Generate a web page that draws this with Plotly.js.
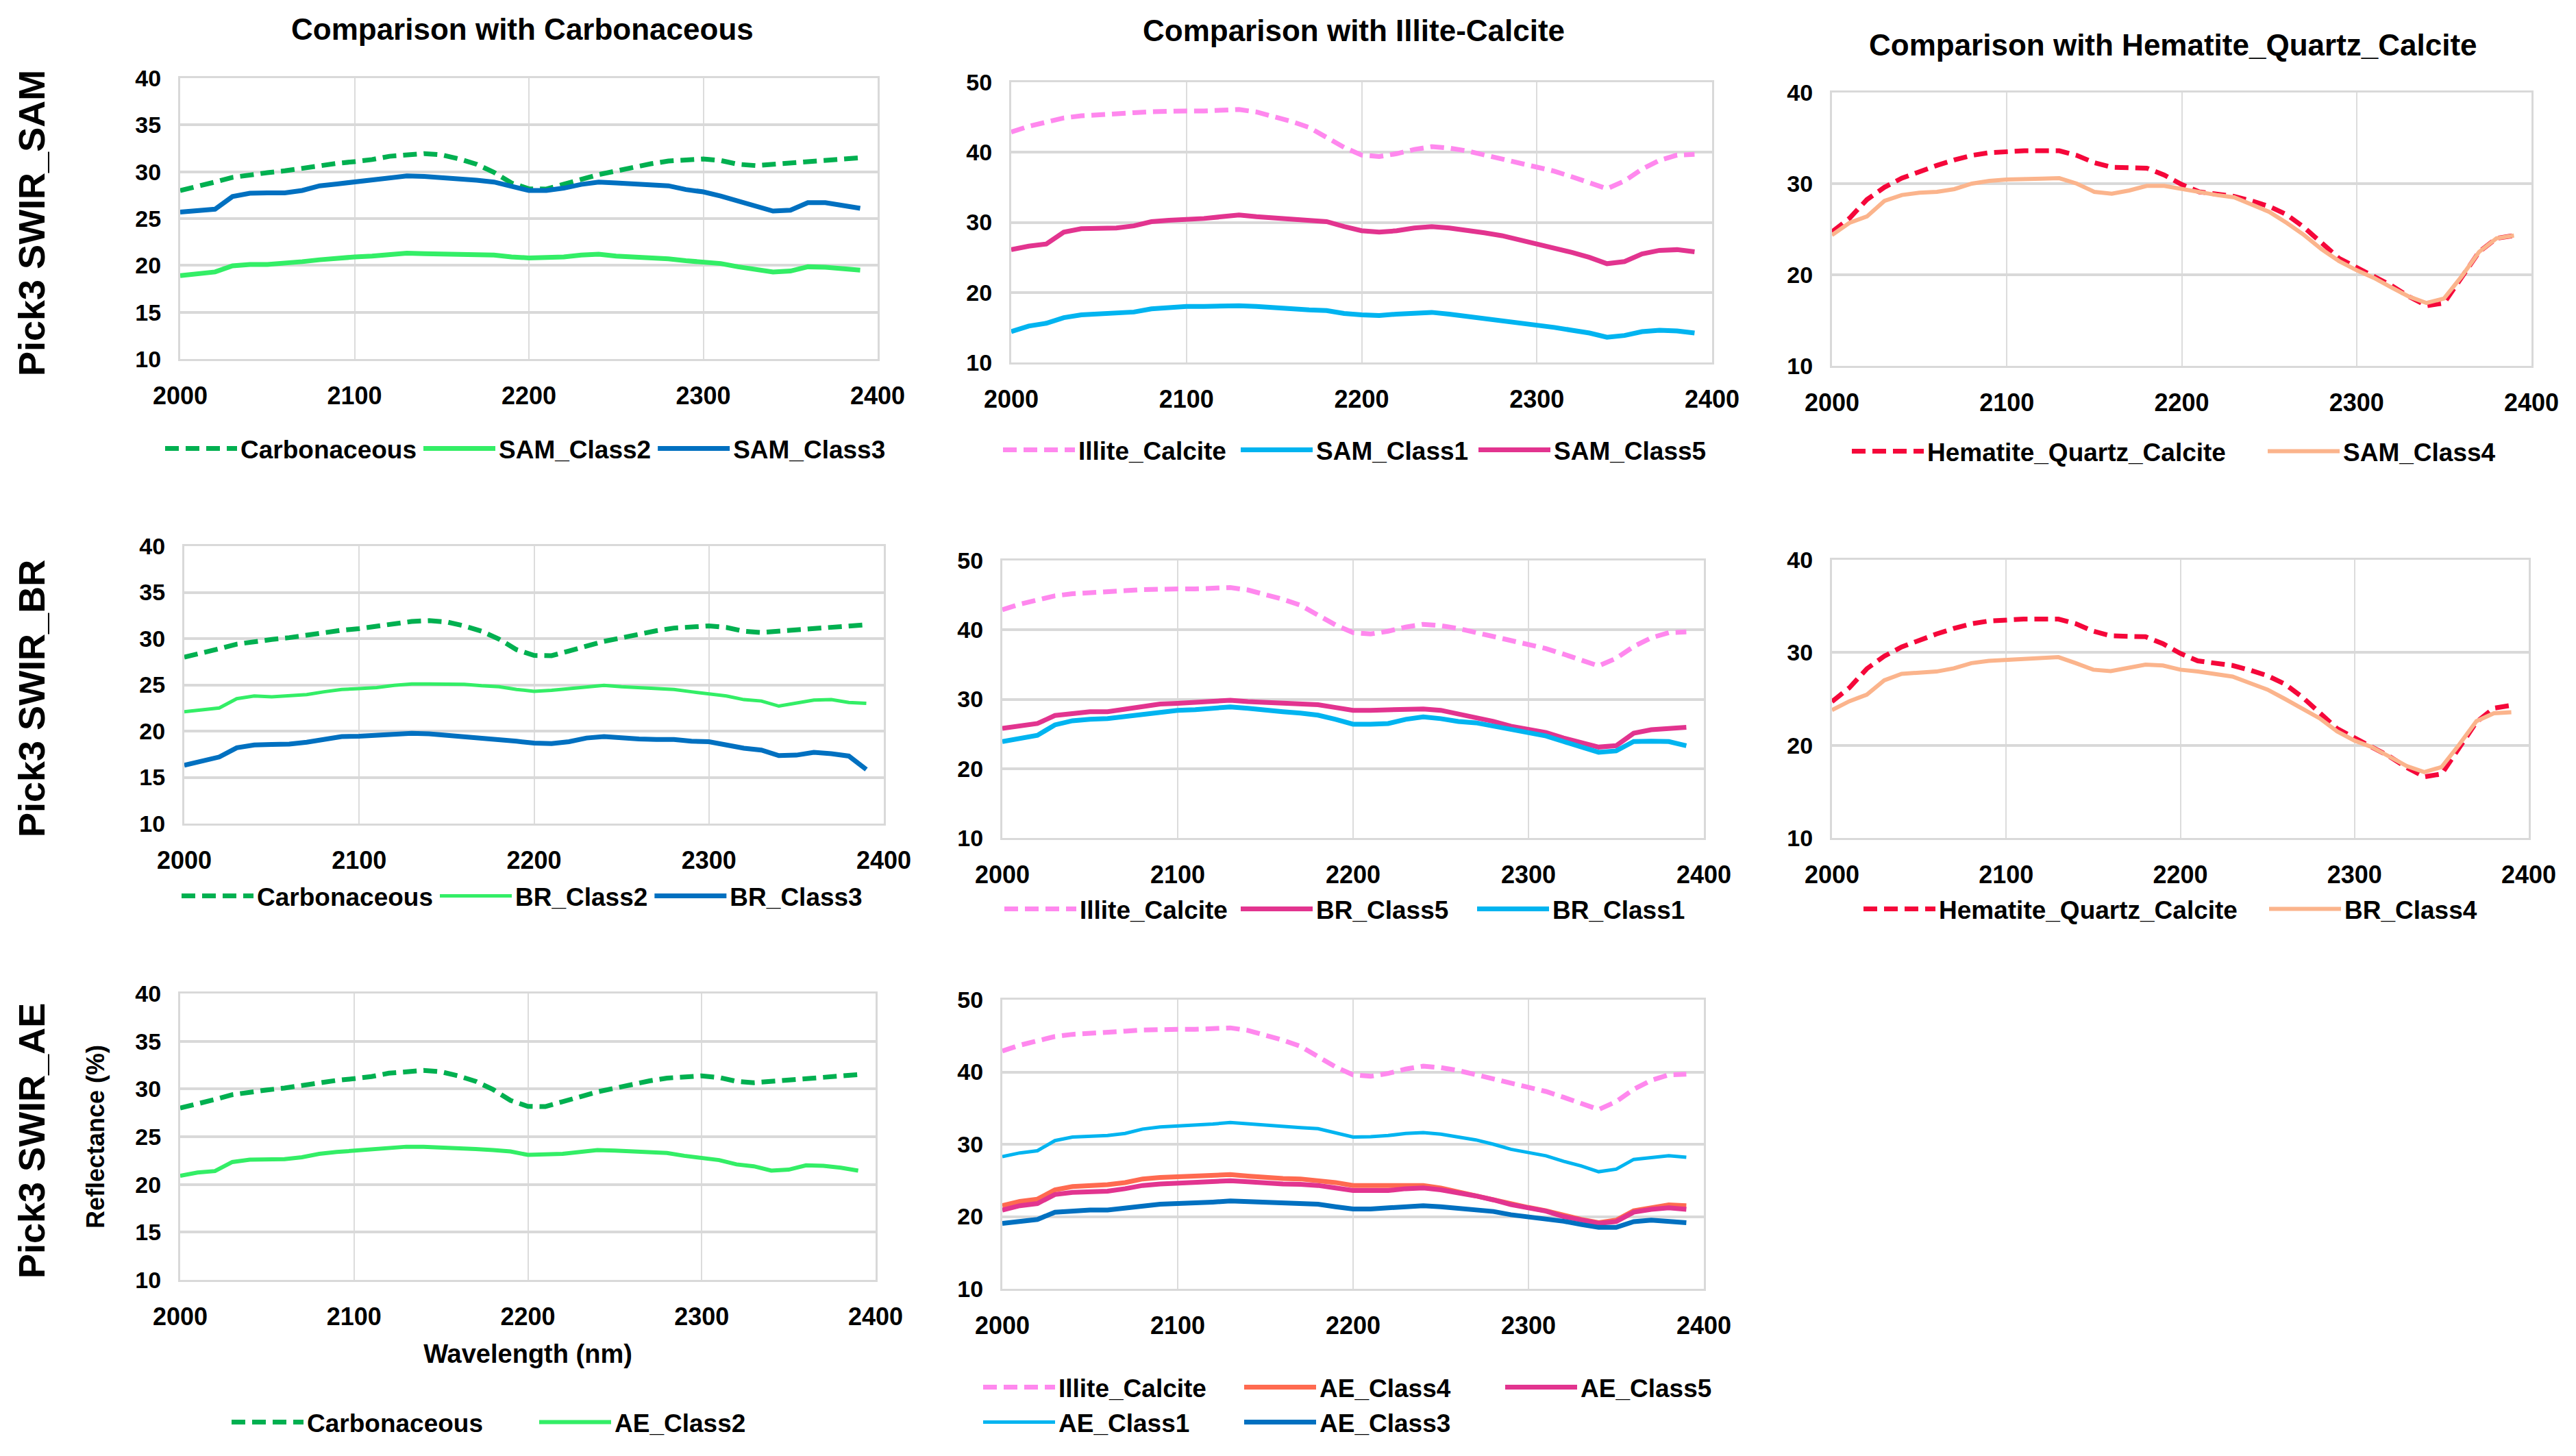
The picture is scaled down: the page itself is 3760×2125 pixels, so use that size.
<!DOCTYPE html>
<html>
<head>
<meta charset="utf-8">
<script src="https://cdn.plot.ly/plotly-3.0.1.min.js"></script>
<style>
body { margin: 0; background: #fff; }
#chart { width: 3760px; height: 2125px; }
</style>
</head>
<body>
<div id="chart"></div>
<script>
// wavelength grid (nm)
var wavelength = [2000, 2010, 2020, 2030, 2040, 2050, 2060, 2070, 2080, 2090,
                  2100, 2110, 2120, 2130, 2140, 2150, 2160, 2170, 2180, 2190,
                  2200, 2210, 2220, 2230, 2240, 2250, 2260, 2270, 2280, 2290,
                  2300, 2310, 2320, 2330, 2340, 2350, 2360, 2370, 2380, 2390];

// library spectra
var carbonaceous = [28.0, 28.4, 28.9, 29.4, 29.7, 29.9, 30.1, 30.4, 30.66, 30.9,
                    31.08, 31.3, 31.65, 31.85, 31.94, 31.8, 31.37, 30.8, 29.94, 28.8,
                    28.18, 28.15, 28.66, 29.23, 29.7, 30.08, 30.5, 30.85, 31.14, 31.3,
                    31.37, 31.2, 30.8, 30.66, 30.8, 30.94, 31.14, 31.28, 31.37, 31.5];
var illiteCalcite = [42.9, 43.7, 44.3, 44.9, 45.2, 45.4, 45.5, 45.65, 45.8, 45.9,
                     45.9, 45.9, 46.0, 46.1, 45.75, 45.1, 44.4, 43.55, 42.2, 40.7,
                     39.6, 39.4, 39.8, 40.4, 40.8, 40.6, 40.2, 39.6, 38.95, 38.4,
                     37.9, 37.3, 36.5, 35.65, 34.8, 35.9, 37.6, 38.85, 39.6, 39.7];
var hematiteQC = [24.7, 26.2, 28.25, 29.6, 30.6, 31.35, 32.0, 32.6, 33.1, 33.4,
                  33.55, 33.6, 33.6, 33.6, 33.1, 32.3, 31.8, 31.7, 31.7, 30.95,
                  29.9, 29.1, 28.85, 28.6, 28.1, 27.5, 26.6, 25.2, 23.5, 21.8,
                  20.8, 19.8, 18.8, 17.6, 16.6, 16.9, 19.8, 22.5, 24.0, 24.3];

// SAM classes
var samClass1 = [14.4, 15.2, 15.6, 16.4, 16.8, 16.9, 17.0, 17.2, 17.65, 17.9,
                 18.0, 18.0, 18.1, 18.1, 18.0, 17.8, 17.7, 17.5, 17.4, 17.0,
                 16.8, 16.7, 16.9, 17.1, 17.15, 16.9, 16.6, 16.3, 15.9, 15.6,
                 15.35, 15.0, 14.6, 14.2, 13.6, 13.85, 14.4, 14.6, 14.5, 14.2];
var samClass2 = [18.9, 19.1, 19.3, 19.95, 20.1, 20.1, 20.2, 20.4, 20.6, 20.8,
                 20.9, 21.0, 21.2, 21.3, 21.25, 21.2, 21.2, 21.1, 21.1, 20.9,
                 20.8, 20.85, 20.9, 21.1, 21.2, 21.0, 20.9, 20.85, 20.7, 20.5,
                 20.35, 20.2, 19.85, 19.6, 19.3, 19.4, 19.85, 19.8, 19.7, 19.5];
var samClass3 = [25.7, 25.9, 26.0, 27.35, 27.7, 27.75, 27.75, 28.0, 28.5, 28.7,
                 28.9, 29.05, 29.3, 29.55, 29.5, 29.4, 29.3, 29.1, 28.9, 28.5,
                 28.0, 28.0, 28.25, 28.65, 28.9, 28.8, 28.7, 28.65, 28.5, 28.1,
                 27.85, 27.4, 26.85, 26.4, 25.8, 25.9, 26.7, 26.7, 26.4, 26.1];
var samClass4 = [24.35, 25.7, 26.4, 28.1, 28.75, 29.0, 29.1, 29.4, 30.0, 30.3,
                 30.45, 30.45, 30.55, 30.6, 30.0, 29.1, 28.9, 29.25, 29.75, 29.75,
                 29.4, 29.1, 28.75, 28.5, 27.7, 26.9, 25.7, 24.35, 22.8, 21.5,
                 20.5, 19.65, 18.6, 17.6, 16.9, 17.4, 19.8, 22.5, 24.0, 24.3];
var samClass5 = [26.1, 26.6, 26.9, 28.6, 29.1, 29.1, 29.2, 29.5, 30.1, 30.3,
                 30.4, 30.55, 30.8, 31.05, 30.8, 30.6, 30.45, 30.3, 30.1, 29.4,
                 28.8, 28.6, 28.8, 29.2, 29.4, 29.2, 28.9, 28.5, 28.1, 27.5,
                 26.9, 26.4, 25.7, 25.0, 24.1, 24.4, 25.5, 26.0, 26.1, 25.8];

// BR classes
var brClass1 = [23.9, 24.4, 24.8, 26.3, 26.9, 27.1, 27.2, 27.5, 27.85, 28.2,
                28.4, 28.5, 28.7, 28.9, 28.7, 28.4, 28.2, 28.0, 27.7, 27.1,
                26.4, 26.4, 26.5, 27.1, 27.45, 27.2, 26.8, 26.6, 26.1, 25.55,
                25.2, 24.7, 23.9, 23.1, 22.35, 22.55, 23.9, 23.95, 23.9, 23.3];
var brClass2 = [22.1, 22.3, 22.5, 23.5, 23.8, 23.7, 23.8, 23.95, 24.25, 24.5,
                24.6, 24.7, 24.95, 25.1, 25.1, 25.05, 25.05, 24.9, 24.8, 24.5,
                24.3, 24.4, 24.6, 24.75, 24.95, 24.8, 24.7, 24.65, 24.5, 24.25,
                24.0, 23.8, 23.4, 23.25, 22.7, 23.0, 23.35, 23.4, 23.1, 23.0];
var brClass3 = [16.3, 16.8, 17.2, 18.2, 18.5, 18.55, 18.6, 18.8, 19.15, 19.4,
                19.45, 19.55, 19.7, 19.75, 19.7, 19.55, 19.45, 19.25, 19.15, 18.9,
                18.7, 18.65, 18.85, 19.25, 19.4, 19.25, 19.15, 19.1, 19.1, 18.9,
                18.85, 18.5, 18.15, 17.95, 17.35, 17.4, 17.7, 17.55, 17.3, 15.85];
var brClass4 = [23.8, 24.75, 25.45, 27.0, 27.7, 27.8, 27.95, 28.3, 28.85, 29.1,
                29.2, 29.2, 29.3, 29.5, 28.85, 28.15, 28.0, 28.3, 28.7, 28.6,
                28.15, 27.95, 27.7, 27.4, 26.7, 26.0, 25.0, 23.95, 22.9, 21.5,
                20.5, 19.8, 18.8, 17.75, 17.1, 17.65, 20.05, 22.6, 23.45, 23.55];
var brClass5 = [25.8, 26.2, 26.5, 27.65, 28.0, 28.2, 28.2, 28.6, 29.0, 29.3,
                29.4, 29.55, 29.7, 29.85, 29.65, 29.55, 29.45, 29.35, 29.2, 28.8,
                28.4, 28.4, 28.5, 28.6, 28.6, 28.4, 27.9, 27.45, 26.8, 26.1,
                25.7, 25.2, 24.4, 23.75, 23.1, 23.3, 25.1, 25.6, 25.8, 25.95];

// AE classes
var aeClass1 = [28.3, 28.8, 29.1, 30.5, 31.0, 31.1, 31.2, 31.5, 32.1, 32.4,
                32.5, 32.65, 32.8, 33.0, 32.8, 32.6, 32.5, 32.3, 32.15, 31.6,
                31.0, 31.05, 31.2, 31.5, 31.6, 31.4, 30.95, 30.6, 30.0, 29.3,
                28.85, 28.4, 27.65, 27.0, 26.2, 26.55, 27.9, 28.1, 28.4, 28.2];
var aeClass2 = [20.9, 21.25, 21.4, 22.35, 22.6, 22.65, 22.65, 22.85, 23.2, 23.4,
                23.55, 23.6, 23.8, 23.95, 23.95, 23.9, 23.8, 23.7, 23.6, 23.45,
                23.1, 23.1, 23.2, 23.4, 23.6, 23.55, 23.45, 23.4, 23.3, 23.0,
                22.8, 22.55, 22.1, 21.9, 21.45, 21.55, 22.0, 21.95, 21.75, 21.45];
var aeClass3 = [19.05, 19.4, 19.6, 20.6, 20.8, 20.9, 20.9, 21.15, 21.5, 21.7,
                21.8, 21.85, 22.0, 22.15, 22.05, 21.95, 21.85, 21.8, 21.7, 21.35,
                21.05, 21.05, 21.15, 21.35, 21.5, 21.35, 21.1, 20.95, 20.7, 20.25,
                19.95, 19.7, 19.35, 18.9, 18.5, 18.5, 19.3, 19.5, 19.4, 19.15];
var aeClass4 = [21.5, 22.1, 22.4, 23.7, 24.15, 24.25, 24.4, 24.7, 25.2, 25.4,
                25.5, 25.55, 25.7, 25.8, 25.6, 25.35, 25.25, 25.2, 25.0, 24.7,
                24.3, 24.3, 24.3, 24.4, 24.3, 23.95, 23.4, 22.95, 22.4, 21.7,
                21.25, 20.8, 20.15, 19.6, 19.15, 19.5, 20.8, 21.25, 21.6, 21.5];
var aeClass5 = [20.9, 21.5, 21.8, 23.05, 23.35, 23.4, 23.5, 23.85, 24.3, 24.5,
                24.6, 24.7, 24.8, 24.95, 24.8, 24.6, 24.5, 24.45, 24.3, 23.95,
                23.6, 23.6, 23.6, 23.85, 23.95, 23.7, 23.3, 22.85, 22.3, 21.65,
                21.2, 20.75, 20.0, 19.5, 19.05, 19.3, 20.6, 21.0, 21.2, 21.0];

var colTitles = ['Comparison with Carbonaceous', 'Comparison with Illite-Calcite',
                 'Comparison with Hematite_Quartz_Calcite'];
var rowLabels = ['Pick3 SWIR_SAM', 'Pick3 SWIR_BR', 'Pick3 SWIR_AE'];

var W = 3760, H = 2125;
var FONT = 'Liberation Sans, Arial, sans-serif';
var DASH = '20px,10px';

var C = {
  carb: '#00B050', cls2: '#33EE66', cls3: '#0070C0',
  illite: '#FF88EE', cls1: '#00B4F0', cls5: '#E2348F',
  hem: '#F5073A', cls4: '#FBB48C', ae4: '#FF6A50'
};

function line(name, y, color, dashed, width, n, leg) {
  return {
    x: wavelength, y: y, name: name, type: 'scatter', mode: 'lines',
    xaxis: n === 1 ? 'x' : 'x' + n, yaxis: n === 1 ? 'y' : 'y' + n,
    legend: leg,
    line: {color: color, width: width, dash: dashed ? DASH : 'solid'}
  };
}

var data = [
  line('Carbonaceous', carbonaceous, C.carb, true, 7, 1, 'legend'),
  line('SAM_Class2', samClass2, C.cls2, false, 7, 1, 'legend'),
  line('SAM_Class3', samClass3, C.cls3, false, 7, 1, 'legend'),

  line('Illite_Calcite', illiteCalcite, C.illite, true, 7, 2, 'legend2'),
  line('SAM_Class1', samClass1, C.cls1, false, 7, 2, 'legend2'),
  line('SAM_Class5', samClass5, C.cls5, false, 7, 2, 'legend2'),

  line('Hematite_Quartz_Calcite', hematiteQC, C.hem, true, 7, 3, 'legend3'),
  line('SAM_Class4', samClass4, C.cls4, false, 6, 3, 'legend3'),

  line('Carbonaceous', carbonaceous, C.carb, true, 7, 4, 'legend4'),
  line('BR_Class2', brClass2, C.cls2, false, 5, 4, 'legend4'),
  line('BR_Class3', brClass3, C.cls3, false, 7, 4, 'legend4'),

  line('Illite_Calcite', illiteCalcite, C.illite, true, 7, 5, 'legend5'),
  line('BR_Class5', brClass5, C.cls5, false, 7, 5, 'legend5'),
  line('BR_Class1', brClass1, C.cls1, false, 7, 5, 'legend5'),

  line('Hematite_Quartz_Calcite', hematiteQC, C.hem, true, 7, 6, 'legend6'),
  line('BR_Class4', brClass4, C.cls4, false, 6, 6, 'legend6'),

  line('Carbonaceous', carbonaceous, C.carb, true, 7, 7, 'legend7'),
  line('AE_Class2', aeClass2, C.cls2, false, 6, 7, 'legend7'),

  line('Illite_Calcite', illiteCalcite, C.illite, true, 7, 8, 'legend8'),
  line('AE_Class4', aeClass4, C.ae4, false, 7, 8, 'legend8'),
  line('AE_Class5', aeClass5, C.cls5, false, 7, 8, 'legend8'),
  line('AE_Class1', aeClass1, C.cls1, false, 5, 8, 'legend9'),
  line('AE_Class3', aeClass3, C.cls3, false, 7, 8, 'legend9')
];

// panel boxes in pixels: [left, right, top, bottom], y range, y step
var panels = [
  [263, 1281, 114, 524, [10, 40], 5],
  [1476, 2499, 120, 529, [10, 50], 10],
  [2674, 3695, 135, 534, [10, 40], 10],
  [269, 1290, 797, 1202, [10, 40], 5],
  [1463, 2487, 818, 1223, [10, 50], 10],
  [2674, 3691, 817, 1223, [10, 40], 10],
  [263, 1278, 1450, 1868, [10, 40], 5],
  [1463, 2487, 1459, 1881, [10, 50], 10]
];

var layout = {
  width: W, height: H,
  margin: {l: 0, r: 0, t: 0, b: 0, autoexpand: false},
  paper_bgcolor: '#fff', plot_bgcolor: '#fff',
  font: {family: FONT, color: '#000'},
  showlegend: true,
  annotations: []
};

panels.forEach(function (p, i) {
  var n = i + 1;
  var sx = n === 1 ? '' : n;
  layout['xaxis' + sx] = {
    domain: [p[0] / W, p[1] / W], anchor: 'y' + sx,
    range: [2000, 2400], tick0: 2000, dtick: 100,
    showgrid: true, gridcolor: '#DCDCDC', gridwidth: 2,
    showline: true, mirror: true, linecolor: '#D9D9D9', linewidth: 3,
    zeroline: false, ticks: '', ticklabelstandoff: 20,
    tickfont: {family: FONT, size: 36, weight: 'bold', color: '#000'}
  };
  layout['yaxis' + sx] = {
    domain: [1 - p[3] / H, 1 - p[2] / H], anchor: 'x' + sx,
    range: p[4], tick0: 10, dtick: p[5],
    showgrid: true, gridcolor: '#D9D9D9', gridwidth: 4,
    showline: true, mirror: true, linecolor: '#D9D9D9', linewidth: 3,
    zeroline: false, ticks: '', ticklabelstandoff: 18,
    tickfont: {family: FONT, size: 34, weight: 'bold', color: '#000'}
  };
});

layout.xaxis7.title = {text: 'Wavelength (nm)', font: {family: FONT, size: 38, weight: 'bold', color: '#000'}, standoff: 22};

function legendAt(x, y, entrywidth) {
  return {
    orientation: 'h', x: x / W, y: 1 - y / H, xanchor: 'left', yanchor: 'middle',
    xref: 'paper', yref: 'paper',
    itemwidth: 105, entrywidth: entrywidth, bgcolor: 'rgba(0,0,0,0)',
    font: {family: FONT, size: 37, weight: 'bold', color: '#000'},
    traceorder: 'normal', itemclick: false, itemdoubleclick: false
  };
}
layout.legend = legendAt(236, 655, 0);
layout.legend2 = legendAt(1459, 657, 227);
layout.legend3 = legendAt(2698, 659, 487);
layout.legend4 = legendAt(260, 1308, 0);
layout.legend5 = legendAt(1461, 1327, 225);
layout.legend6 = legendAt(2715, 1327, 472);
layout.legend7 = legendAt(333, 2076, 329);
layout.legend8 = legendAt(1430, 2025, 261);
layout.legend9 = legendAt(1430, 2076, 261);

function note(text, x, y, size, angle) {
  return {
    text: text, x: x / W, y: 1 - y / H, xref: 'paper', yref: 'paper',
    xanchor: 'center', yanchor: 'middle', showarrow: false, textangle: angle || 0,
    font: {family: FONT, size: size, weight: 'bold', color: '#000'}
  };
}
layout.annotations.push(note(colTitles[0], 762, 43, 44));
layout.annotations.push(note(colTitles[1], 1976, 45, 44));
layout.annotations.push(note(colTitles[2], 3172, 65, 44));
layout.annotations.push(note(rowLabels[0], 46, 326, 54, -90));
layout.annotations.push(note(rowLabels[1], 46, 1020, 54, -90));
layout.annotations.push(note(rowLabels[2], 46, 1665, 54, -90));
layout.annotations.push(note('Reflectance (%)', 139, 1659, 36, -90));

Plotly.newPlot('chart', data, layout, {staticPlot: true});
</script>
</body>
</html>
